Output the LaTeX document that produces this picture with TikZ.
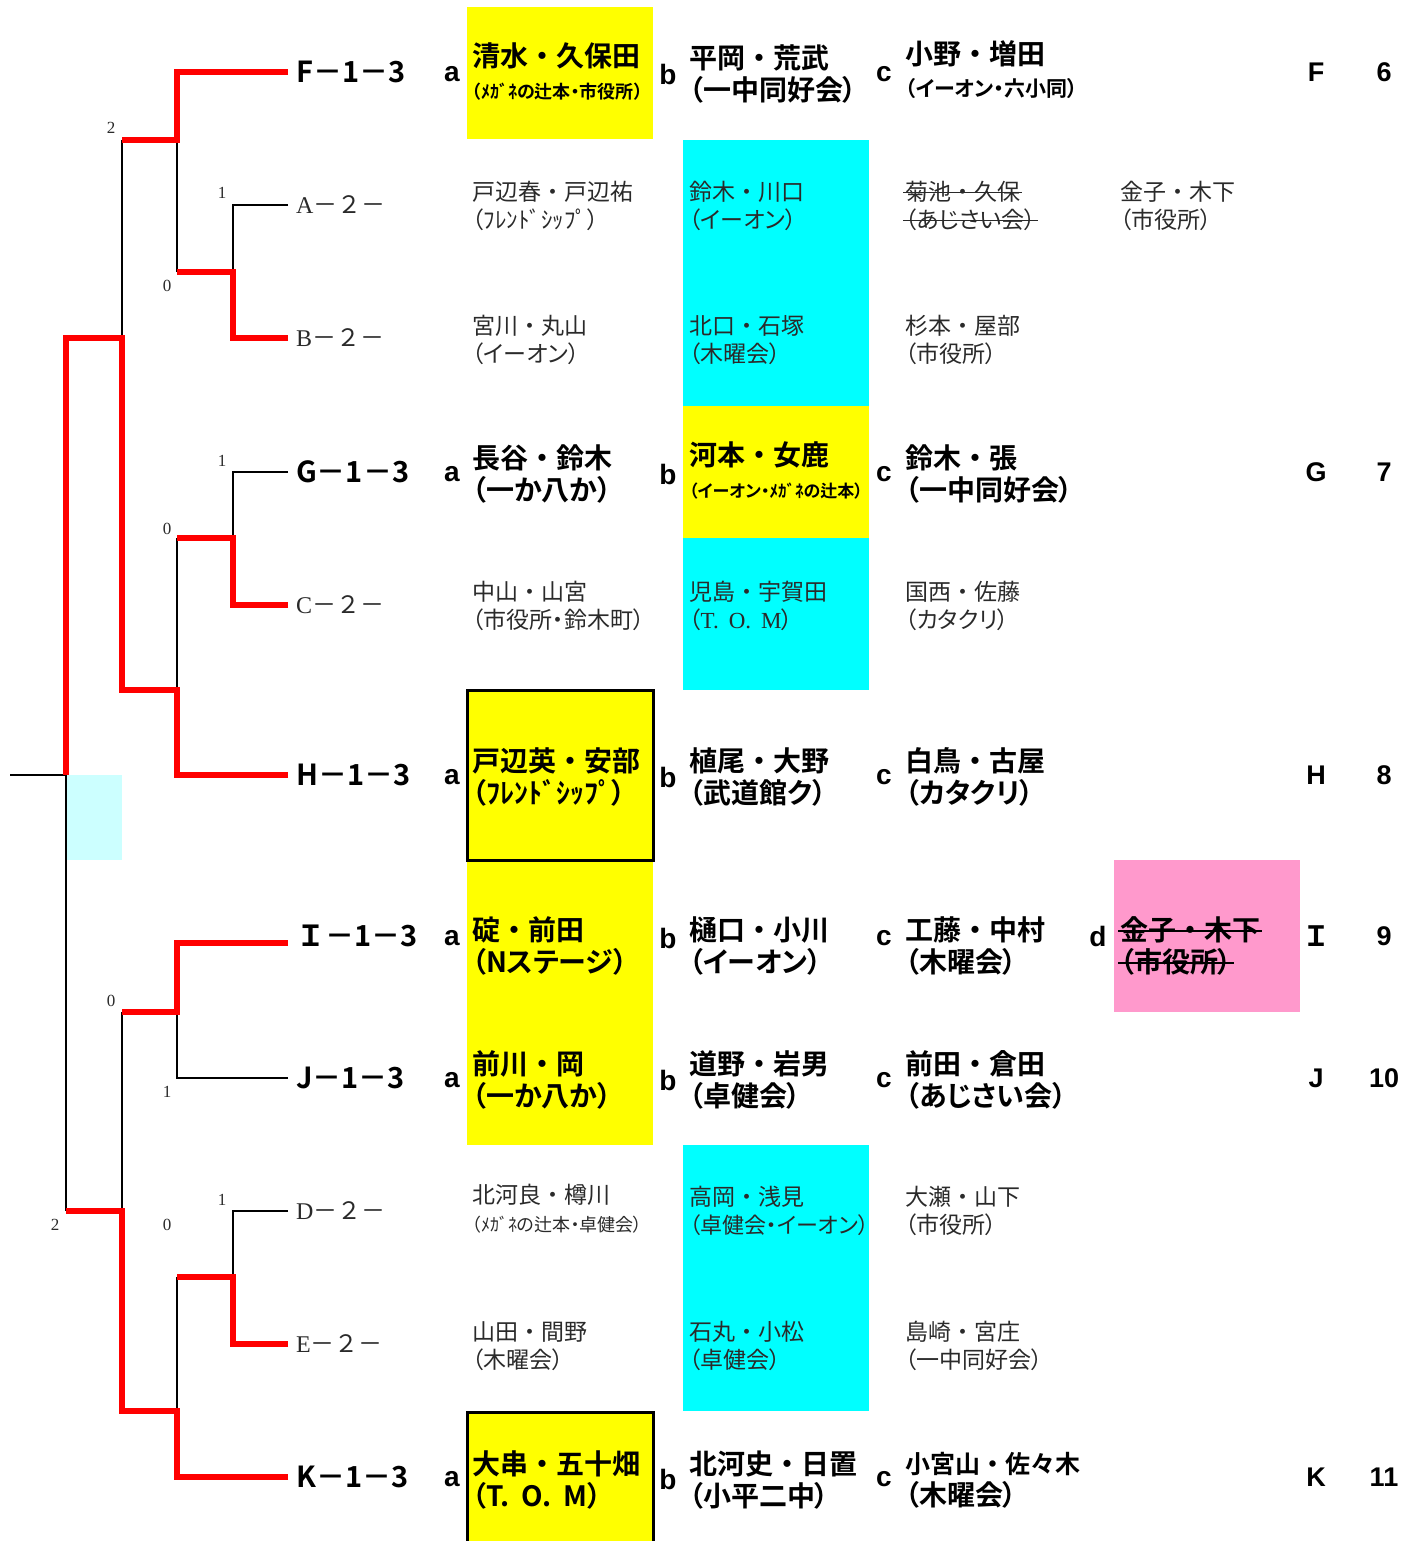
\documentclass[tikz,border=0pt]{standalone}
\usepackage{fontspec}
\newfontfamily\jp[RawFeature=+palt,BoldFont={Noto Sans CJK JP Bold}]{Noto Sans CJK JP}
\newfontfamily\jpf[BoldFont={Noto Sans CJK JP Bold}]{Noto Sans CJK JP}
\newfontfamily\lsans{Liberation Sans}
\newfontfamily\lserif{Liberation Serif}
\newsavebox\strkbox
\newcommand\strk[1]{\sbox\strkbox{#1}\rlap{\kern-2pt\rule[0.32em]{\dimexpr\wd\strkbox+4pt\relax}{1.4pt}}\usebox\strkbox}
\newcommand\fs[1]{\fontsize{#1}{#1}\selectfont}
\newcommand\two[2]{#1\\{\jp #2}}
\definecolor{yel}{HTML}{FFFF00}
\definecolor{cya}{HTML}{00FFFF}
\definecolor{pnk}{HTML}{FF99CC}
\definecolor{lcy}{HTML}{CCFFFF}
\definecolor{gtx}{HTML}{2A2A2A}
\tikzset{
  blk/.style={line width=1.5pt,black},
  win/.style={line width=5.5pt,red,line join=miter},
  big/.style={anchor=west,inner sep=0pt,align=left,font=\jpf\bfseries\fontsize{28}{32}\selectfont},
  lite/.style={anchor=west,inner sep=0pt,align=left,font=\jpf\fontsize{23}{28}\selectfont,text=gtx},
  lab/.style={anchor=west,inner xsep=8pt,inner ysep=0pt,font=\jpf\bfseries\fontsize{29}{29}\selectfont},
  llab/.style={anchor=west,inner xsep=8pt,inner ysep=0pt,font=\jpf\fontsize{24}{24}\selectfont,text=gtx},
  ltr/.style={inner sep=0pt,font=\lsans\bfseries\fontsize{28}{28}\selectfont},
  rc/.style={inner sep=0pt,font=\lsans\bfseries\fontsize{27}{27}\selectfont},
  num/.style={inner sep=0pt,font=\lserif\fontsize{17}{17}\selectfont,text=gtx},
}
\begin{document}
\begin{tikzpicture}[x=1pt,y=-1pt]
\useasboundingbox (0,0) rectangle (1404,1541);
% ---- coloured boxes
\fill[yel] (467,7) rectangle (653,139);
\fill[cya] (683,140) rectangle (869,406);
\fill[yel] (683,406) rectangle (869,538);
\fill[cya] (683,538) rectangle (869,690);
\fill[yel] (467,862) rectangle (653,1145);
\fill[cya] (683,1145) rectangle (869,1411);
\fill[pnk] (1114,860) rectangle (1300,1012);
\fill[lcy] (67,775) rectangle (122,860);
\draw[line width=3pt,fill=yel] (467,690.5) rectangle (653,860.5);
\draw[line width=3pt,fill=yel] (467,1412) rectangle (653,1560);
% ---- row labels
\node[lab]  (nF) at (288,72)   {F－1－3};
\node[llab] (nA) at (288,205)  {{\lserif A}－２－};
\node[llab] (nB) at (288,338)  {{\lserif B}－２－};
\node[lab]  (nG) at (288,472)  {G－1－3};
\node[llab] (nC) at (288,605)  {{\lserif C}－２－};
\node[lab]  (nH) at (288,775)  {H－1－3};
\node[lab]  (nI) at (288,936)  {Ｉ－1－3};
\node[lab]  (nJ) at (288,1078) {J－1－3};
\node[llab] (nD) at (288,1211) {{\lserif D}－２－};
\node[llab] (nE) at (288,1344) {{\lserif E}－２－};
\node[lab]  (nK) at (288,1477) {K－1－3};
% ---- junctions
\coordinate (jAB) at (177,272);
\coordinate (jF) at (122,140);
\coordinate (jGC) at (177,538);
\coordinate (jH) at (122,690);
\coordinate (jTop) at (66,338);
\coordinate (root) at (66,775);
\coordinate (stub) at (10,775);
\coordinate (jBot) at (66,1211);
\coordinate (jIJ) at (122,1012);
\coordinate (jDE) at (177,1277);
\coordinate (jK) at (122,1411);
% ---- black (lost) lines
\draw[blk] (nA.west) -| (233,272);
\draw[blk] (jAB) -- (177,140);
\draw[blk] (jF) -- (122,338);
\draw[blk] (nG.west) -| (233,538);
\draw[blk] (jGC) -- (177,690);
\draw[blk] (stub) -- (root) -- (jBot);
\draw[blk] (nJ.west |- 0,1078) -| (177,1012);
\draw[blk] (jIJ) -- (122,1211);
\draw[blk] (nD.west) -| (233,1277);
\draw[blk] (jDE) -- (177,1411);
% ---- red (winning) lines
\draw[win] (nF.west) -| (177,140) -- (jF);
\draw[win] (nB.west) -| (233,272) -- (jAB);
\draw[win] (nC.west) -| (233,538) -- (jGC);
\draw[win] (nH.west) -| (177,690) -- (jH) -- (122,338) -- (jTop) -- (root);
\draw[win] (nI.west |- 0,943) -| (177,1012) -- (jIJ);
\draw[win] (nE.west) -| (233,1277) -- (jDE);
\draw[win] (nK.west) -| (177,1411) -- (jK) -- (122,1211) -- (jBot);
% ---- scores
\node[num] at (111,128) {2};
\node[num] at (222,193) {1};
\node[num] at (167,286) {0};
\node[num] at (222,461) {1};
\node[num] at (167,529) {0};
\node[num] at (111,1001) {0};
\node[num] at (167,1092) {1};
\node[num] at (222,1200) {1};
\node[num] at (167,1225) {0};
\node[num] at (55,1225) {2};
% ---- column letters
\foreach \y in {72,472,775,936,1078,1477}{
  \node[ltr] at (452,\y+2) {a};
  \node[ltr] at (668,\y+2) {b};
  \node[ltr] at (884,\y+2) {c};
}
\node[ltr] at (1098,936) {d};
% ---- row F
\node[big] (fa) at (472,72) {\two{清水・久保田}{\fs{18}（ﾒｶﾞﾈの辻本・市役所）}};
\node[big] (fb) at (689,74) {\two{平岡・荒武}{（一中同好会）}};
\node[big] (fc) at (905,70) {\two{小野・増田}{\fs{21}（イーオン・六小同）}};
% ---- row A
\node[lite] (aa) at (472,206) {\two{戸辺春・戸辺祐}{（ﾌﾚﾝﾄﾞｼｯﾌﾟ）}};
\node[lite] (ab) at (689,206) {\two{鈴木・川口}{（イーオン）}};
\node[lite] (ac) at (905,206) {\two{\strk{菊池・久保}}{\strk{（あじさい会）}}};
\node[lite] (ad) at (1120,206) {\two{金子・木下}{（市役所）}};
% ---- row B
\node[lite] (ba) at (472,340) {\two{宮川・丸山}{（イーオン）}};
\node[lite] (bb) at (689,340) {\two{北口・石塚}{（木曜会）}};
\node[lite] (bc) at (905,340) {\two{杉本・屋部}{（市役所）}};
% ---- row G
\node[big] (ga) at (472,474) {\two{長谷・鈴木}{（一か八か）}};
\node[big] (gb) at (689,470) {\two{河本・女鹿}{\fs{17}（イーオン・ﾒｶﾞﾈの辻本）}};
\node[big] (gc) at (905,474) {\two{鈴木・張}{（一中同好会）}};
% ---- row C
\node[lite] (ca) at (472,606) {\two{中山・山宮}{（市役所・鈴木町）}};
\node[lite] (cb) at (689,606) {\two{児島・宇賀田}{（{\lserif T.\hspace{10pt}O.\hspace{10pt}M}）}};
\node[lite] (cc) at (905,606) {\two{国西・佐藤}{（カタクリ）}};
% ---- row H
\node[big] (ha) at (472,777) {\two{戸辺英・安部}{（ﾌﾚﾝﾄﾞｼｯﾌﾟ）}};
\node[big] (hb) at (689,777) {\two{植尾・大野}{（武道館ク）}};
\node[big] (hc) at (905,777) {\two{白鳥・古屋}{（カタクリ）}};
% ---- row I
\node[big] (ia) at (472,946) {\two{碇・前田}{（Nステージ）}};
\node[big] (ib) at (689,946) {\two{樋口・小川}{（イーオン）}};
\node[big] (ic) at (905,946) {\two{工藤・中村}{（木曜会）}};
\node[big] (id) at (1120,946) {\two{\strk{金子・木下}}{\strk{（市役所）}}};
% ---- row J
\node[big] (ja) at (472,1080) {\two{前川・岡}{（一か八か）}};
\node[big] (jb) at (689,1080) {\two{道野・岩男}{（卓健会）}};
\node[big] (jc) at (905,1080) {\two{前田・倉田}{（あじさい会）}};
% ---- row D
\node[lite] (da) at (472,1209) {\two{北河良・樽川}{\fs{18}（ﾒｶﾞﾈの辻本・卓健会）}};
\node[lite] (db) at (689,1211) {\two{高岡・浅見}{\fs{22}（卓健会・イーオン）}};
\node[lite] (dc) at (905,1211) {\two{大瀬・山下}{（市役所）}};
% ---- row E
\node[lite] (ea) at (472,1346) {\two{山田・間野}{（木曜会）}};
\node[lite] (eb) at (689,1346) {\two{石丸・小松}{（卓健会）}};
\node[lite] (ec) at (905,1346) {\two{島崎・宮庄}{（一中同好会）}};
% ---- row K
\node[big] (ka) at (472,1480) {\two{大串・五十畑}{（T.\hspace{12pt}O.\hspace{12pt}M）}};
\node[big] (kb) at (689,1480) {\two{北河史・日置}{（小平二中）}};
\node[big] (kc) at (905,1480) {\two{{\fs{25}小宮山・佐々木}}{（木曜会）}};
% ---- right columns
\node[rc] at (1316,72) {F};    \node[rc] at (1384,72) {6};
\node[rc] at (1316,472) {G};   \node[rc] at (1384,472) {7};
\node[rc] at (1316,775) {H};   \node[rc] at (1384,775) {8};
\node[inner sep=0pt,font=\jpf\bfseries\fontsize{28}{28}\selectfont] at (1316,936) {Ｉ};
\node[rc] at (1384,936) {9};
\node[rc] at (1316,1078) {J};  \node[rc] at (1384,1078) {10};
\node[rc] at (1316,1477) {K};  \node[rc] at (1384,1477) {11};
\end{tikzpicture}
\end{document}
